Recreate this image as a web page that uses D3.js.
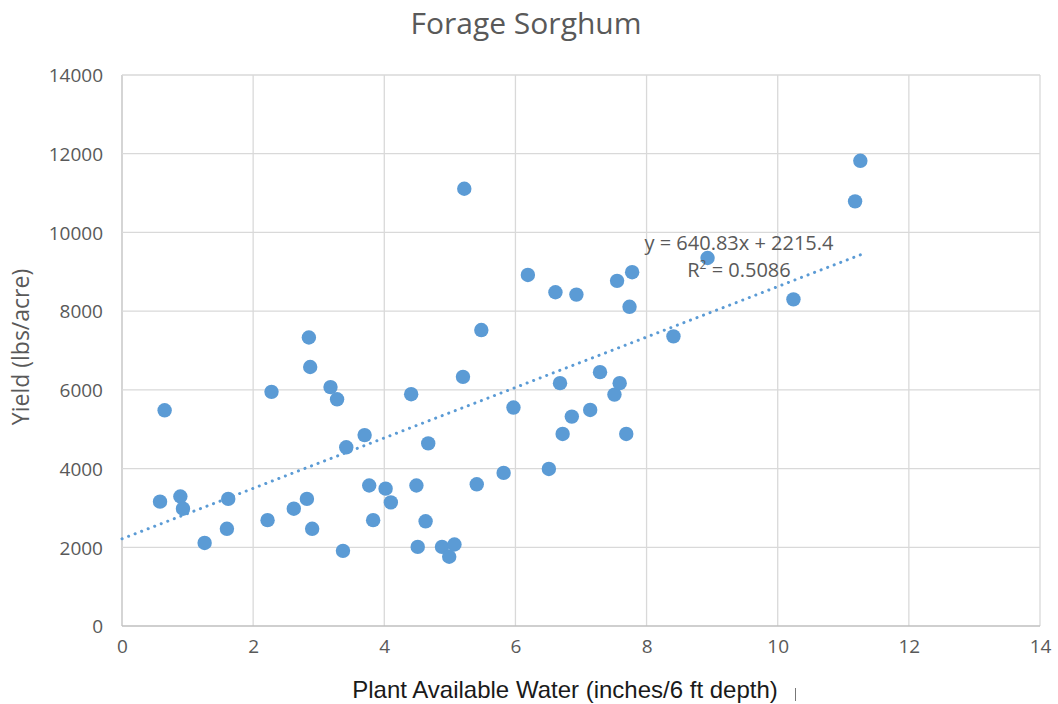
<!DOCTYPE html>
<html>
<head>
<meta charset="utf-8">
<script src="https://cdn.jsdelivr.net/npm/d3@7"></script>
<style>
  body { margin: 0; background: #fff; }
  svg { display: block; }
</style>
</head>
<body>
<script>
// 数据
const waterInches = [
  0.65, 0.58, 0.89, 0.93, 1.26, 1.62, 1.60, 2.28, 2.22, 2.62,
  2.85, 2.87, 2.82, 2.90, 3.18, 3.28, 3.42, 3.37, 3.70, 3.77,
  3.83, 4.02, 4.10, 4.41, 4.49, 4.51, 4.63, 4.67, 4.88, 4.99,
  5.07, 5.22, 5.20, 5.41, 5.48, 5.82, 5.97, 6.19, 6.51, 6.61,
  6.68, 6.72, 6.93, 6.86, 7.14, 7.29, 7.51, 7.59, 7.55, 7.78,
  7.74, 7.69, 8.41, 8.93, 10.24, 11.18, 11.26
];
const yieldLbs = [
  5480, 3160, 3290, 2980, 2110, 3230, 2470, 5950, 2690, 2980,
  7330, 6580, 3230, 2470, 6070, 5760, 4540, 1910, 4850, 3570,
  2690, 3490, 3140, 5890, 3570, 2010, 2660, 4640, 2010, 1760,
  2070, 11110, 6330, 3600, 7520, 3890, 5550, 8920, 3990, 8480,
  6170, 4880, 8420, 5320, 5490, 6450, 5880, 6170, 8770, 8990,
  8110, 4880, 7360, 9350, 8300, 10790, 11820
];
const trend = { slope: 640.83, intercept: 2215.4, r2: 0.5086 };
const xTicks = [0, 2, 4, 6, 8, 10, 12, 14];
const yTicks = [0, 2000, 4000, 6000, 8000, 10000, 12000, 14000];

const config = {
  width: 1058,
  height: 704,
  dotColor: '#5B9BD5',
  textColor: '#595959',
  gridColor: '#d9d9d9',
  title: 'Forage Sorghum',
  xTitle: 'Plant Available Water (inches/6 ft depth)',
  yTitle: 'Yield (lbs/acre)'
};
const margin = { left: 122, right: 18, top: 75, bottom: 78 };

const svg = d3.select('body').append('svg')
  .attr('width', config.width)
  .attr('height', config.height);

const x = d3.scaleLinear().domain([0, 14]).range([margin.left, config.width - margin.right]);
const y = d3.scaleLinear().domain([0, 14000]).range([config.height - margin.bottom, margin.top]);

// 网格
svg.append('g')
  .selectAll('line')
  .data(xTicks)
  .join('line')
  .attr('x1', (d) => x(d)).attr('x2', (d) => x(d))
  .attr('y1', y(0)).attr('y2', y(14000))
  .attr('stroke', (d) => d === 0 ? '#bfbfbf' : config.gridColor)
  .attr('stroke-width', 1.3);
svg.append('g')
  .selectAll('line')
  .data(yTicks)
  .join('line')
  .attr('x1', x(0)).attr('x2', x(14))
  .attr('y1', (d) => y(d)).attr('y2', (d) => y(d))
  .attr('stroke', (d) => d === 0 ? '#bfbfbf' : config.gridColor)
  .attr('stroke-width', 1.3);

// 刻度
const xAxis = svg.append('g')
  .attr('transform', `translate(0,${y(0) + 10})`)
  .call(d3.axisBottom(x).tickValues(xTicks).tickSize(0).tickPadding(0));
const yAxis = svg.append('g')
  .attr('transform', `translate(${x(0) - 19},0)`)
  .call(d3.axisLeft(y).tickValues(yTicks).tickSize(0).tickPadding(0).tickFormat(d3.format('d')));
[xAxis, yAxis].forEach((g) => {
  g.select('.domain').remove();
  g.selectAll('text')
    .attr('fill', config.textColor)
    .style('font-family', '"Open Sans", sans-serif')
    .style('font-size', '19px');
});
xAxis.selectAll('text').attr('dy', '0.9em');
yAxis.selectAll('text').attr('dy', '0.36em');

// 趋势线
const xMax = d3.max(waterInches);
svg.append('line')
  .attr('x1', x(0))
  .attr('y1', y(trend.intercept))
  .attr('x2', x(xMax))
  .attr('y2', y(trend.intercept + trend.slope * xMax))
  .attr('stroke', config.dotColor)
  .attr('stroke-width', 3)
  .attr('stroke-linecap', 'round')
  .attr('stroke-dasharray', '0.1 6.9');

// 散点
svg.append('g')
  .selectAll('circle')
  .data(d3.zip(waterInches, yieldLbs))
  .join('circle')
  .attr('cx', (d) => x(d[0]))
  .attr('cy', (d) => y(d[1]))
  .attr('r', 7.2)
  .attr('fill', config.dotColor);

// 公式
const eq = svg.append('g')
  .style('font-family', '"Open Sans", sans-serif')
  .style('font-size', '20px')
  .attr('fill', config.textColor)
  .attr('text-anchor', 'middle');
eq.append('text')
  .attr('x', 739).attr('y', 250)
  .text(`y = ${trend.slope}x + ${trend.intercept}`);
const r2 = eq.append('text')
  .attr('x', 739).attr('y', 277);
r2.append('tspan').text('R');
r2.append('tspan').attr('dy', -8).style('font-size', '12px').text('2');
r2.append('tspan').attr('dy', 8).text(` = ${trend.r2}`);

// 标题
svg.append('text')
  .attr('x', 526).attr('y', 34)
  .attr('text-anchor', 'middle')
  .attr('fill', config.textColor)
  .style('font-family', '"Open Sans", sans-serif')
  .style('font-size', '30px')
  .text(config.title);

svg.append('text')
  .attr('x', 565).attr('y', 698)
  .attr('text-anchor', 'middle')
  .attr('fill', '#1a1a1a')
  .style('font-family', '"Liberation Sans", Arial, sans-serif')
  .style('font-size', '24px')
  .text(config.xTitle);

svg.append('text')
  .attr('transform', 'translate(29,347) rotate(-90)')
  .attr('text-anchor', 'middle')
  .attr('fill', config.textColor)
  .style('font-family', '"Open Sans", sans-serif')
  .style('font-size', '23px')
  .text(config.yTitle);

// small mark right of the axis title
svg.append('line')
  .attr('x1', 795.5).attr('x2', 795.5)
  .attr('y1', 688).attr('y2', 701)
  .attr('stroke', '#777')
  .attr('stroke-width', 1);
</script>
</body>
</html>
